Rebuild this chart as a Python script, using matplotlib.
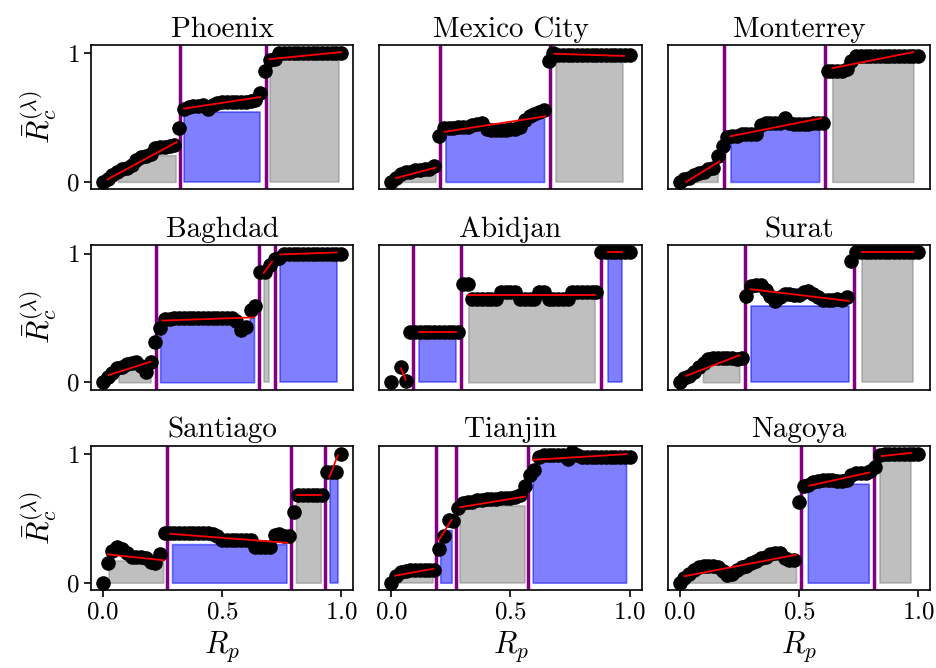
import numpy as np
import matplotlib
matplotlib.use("Agg")
import matplotlib.pyplot as plt

plt.rcParams["font.family"] = "serif"
plt.rcParams["font.serif"] = ["cmr10"]
plt.rcParams["mathtext.fontset"] = "cm"
plt.rcParams["axes.formatter.use_mathtext"] = True

# R_p grid shared by all cities
r_p = np.linspace(0, 1, 51)
nan = np.nan

cities = ["Phoenix", "Mexico City", "Monterrey",
          "Baghdad", "Abidjan", "Surat",
          "Santiago", "Tianjin", "Nagoya"]

# ---- Phoenix
phoenix_y = [0.00, 0.02, 0.05, 0.08, 0.10, 0.11, 0.13, 0.17, 0.19, 0.20,
             0.22, 0.26, 0.27, 0.27, 0.28, 0.29, 0.42, 0.57, 0.58, 0.59,
             0.59, 0.60, 0.57, 0.60, 0.61, 0.62, 0.62, 0.62, 0.62, 0.62,
             0.62, 0.63, 0.64, 0.69, 0.86, 0.95, 0.96, 1.00, 1.00, 1.00,
             1.00, 1.00, 1.00, 1.00, 1.00, 1.00, 1.00, 1.00, 1.00, 1.00, 1.00]
phoenix_breaks = [0.325, 0.686]
phoenix_fits = [(0.02, 0.02, 0.31, 0.31), (0.34, 0.57, 0.66, 0.66), (0.70, 0.955, 1.0, 1.01)]
phoenix_rects = [(0.063, 0.305, 0.208), (0.34, 0.66, 0.54), (0.70, 0.99, 0.95)]

# ---- Mexico City
mexico_y = [0.00, 0.03, 0.06, 0.08, 0.08, 0.09, 0.09, 0.10, 0.10, 0.12,
            0.36, 0.42, 0.42, 0.42, 0.43, 0.43, 0.43, 0.44, 0.45, 0.46,
            0.41, 0.40, 0.40, 0.40, 0.40, 0.41, 0.41, 0.43, 0.48, 0.51,
            0.53, 0.54, 0.56, 0.94, 1.00, 0.99, 0.99, 0.99, 0.99, 0.99,
            0.99, 0.99, 0.99, 0.99, 0.99, 0.99, 0.985, 0.985, 0.985, 0.985, 0.985]
mexico_breaks = [0.205, 0.666]
mexico_fits = [(0.02, 0.03, 0.185, 0.11), (0.224, 0.39, 0.646, 0.51), (0.684, 0.997, 0.976, 0.98)]
mexico_rects = [(0.04, 0.185, 0.07), (0.227, 0.641, 0.50), (0.69, 0.973, 0.94)]

# ---- Monterrey
monterrey_y = [0.00, 0.02, 0.03, 0.05, 0.07, 0.08, 0.10, 0.11, 0.20, 0.28,
               0.35, 0.36, 0.36, 0.37, 0.37, 0.37, 0.37, 0.44, 0.46, 0.46,
               0.46, 0.46, 0.50, 0.46, 0.45, 0.45, 0.45, 0.45, 0.46, 0.46,
               0.46, 0.86, 0.86, 0.86, 0.86, 0.88, 0.94, 0.98, 0.98, 0.98,
               0.98, 0.98, 0.98, 0.98, 0.98, 0.98, 0.98, 0.98, 0.98, 0.98, 0.98]
monterrey_breaks = [0.187, 0.61]
monterrey_fits = [(0.027, 0.0, 0.167, 0.16), (0.213, 0.355, 0.593, 0.495), (0.64, 0.885, 0.98, 1.01)]
monterrey_rects = [(0.02, 0.159, 0.065), (0.213, 0.585, 0.43), (0.64, 0.98, 0.93)]

# ---- Baghdad
baghdad_y = [0.00, 0.04, 0.07, 0.11, 0.12, 0.14, 0.15, 0.16, 0.13, 0.08,
             0.16, 0.31, 0.42, 0.49, 0.49, 0.50, 0.50, 0.50, 0.50, 0.50,
             0.50, 0.50, 0.50, 0.50, 0.50, 0.50, 0.50, 0.50, 0.48, 0.41,
             0.43, 0.56, 0.59, 0.86, 0.86, 0.91, 0.96, 0.97, 1.00, 1.00,
             1.00, 1.00, 1.00, 1.00, 1.00, 1.00, 1.00, 1.00, 1.00, 1.00, 1.00]
baghdad_breaks = [0.222, 0.655, 0.72]
baghdad_fits = [(0.024, 0.056, 0.20, 0.16), (0.25, 0.48, 0.634, 0.505),
                (0.675, 0.85, 0.71, 0.94), (0.745, 0.995, 0.98, 1.01)]
baghdad_rects = [(0.066, 0.20, 0.11), (0.24, 0.634, 0.505), (0.676, 0.697, 0.84), (0.743, 0.984, 0.95)]

# ---- Abidjan
abidjan_y = [0.00, nan, 0.12, 0.01, 0.39, 0.39, 0.39, 0.39, 0.39, 0.39,
             0.39, 0.39, 0.39, 0.39, 0.39, 0.765, 0.765, 0.65, 0.65, 0.65,
             0.65, 0.65, 0.65, 0.70, 0.70, 0.70, 0.70, 0.65, 0.65, 0.65,
             0.65, 0.70, 0.70, 0.65, 0.65, 0.65, 0.65, 0.65, 0.70, 0.70,
             0.70, 0.70, 0.70, 0.70, 1.01, 1.01, 1.01, 1.01, 1.01, 1.01, 1.01]
abidjan_breaks = [0.09, 0.293, 0.88]
abidjan_fits = [(0.04, 0.11, 0.06, 0.02), (0.116, 0.394, 0.27, 0.394),
                (0.323, 0.68, 0.853, 0.68), (0.907, 1.01, 0.968, 1.01)]
abidjan_rects = [(0.0, 0.0, 0.0), (0.116, 0.273, 0.37), (0.323, 0.853, 0.655), (0.907, 0.968, 0.98)]

# ---- Surat
surat_y = [0.00, 0.03, 0.05, 0.08, 0.12, 0.15, 0.18, 0.19, 0.19, 0.19,
           0.19, 0.19, 0.18, 0.19, 0.67, 0.75, 0.76, 0.76, 0.72, 0.67,
           0.63, 0.66, 0.69, 0.69, 0.68, 0.68, 0.70, 0.71, 0.69, 0.66,
           0.64, 0.64, 0.64, 0.65, 0.64, 0.66, 0.94, 1.01, 1.01, 1.01,
           1.01, 1.01, 1.01, 1.01, 1.01, 1.01, 1.01, 1.01, 1.01, 1.01, 1.01]
surat_breaks = [0.275, 0.732]
surat_fits = [(0.027, 0.05, 0.25, 0.21), (0.298, 0.724, 0.709, 0.633), (0.763, 1.01, 0.98, 1.01)]
surat_rects = [(0.097, 0.25, 0.15), (0.298, 0.709, 0.59), (0.763, 0.98, 0.97)]

# ---- Santiago
santiago_y = [0.00, 0.15, 0.25, 0.28, 0.26, 0.23, 0.20, 0.20, 0.20, 0.19,
              0.16, 0.15, 0.22, 0.39, 0.39, 0.39, 0.39, 0.39, 0.39, 0.39,
              0.39, 0.39, 0.39, 0.38, 0.36, 0.33, 0.33, 0.33, 0.33, 0.33,
              0.33, 0.33, 0.28, 0.28, 0.28, 0.28, 0.37, 0.38, 0.36, 0.36,
              0.55, 0.68, 0.68, 0.68, 0.68, 0.68, 0.68, 0.86, 0.86, 0.86, 1.00]
santiago_breaks = [0.27, 0.788, 0.932]
santiago_fits = [(0.02, 0.22, 0.256, 0.174), (0.283, 0.38, 0.774, 0.31),
                 (0.816, 0.68, 0.914, 0.68), (0.95, 0.82, 0.985, 0.99)]
santiago_rects = [(0.024, 0.253, 0.173), (0.29, 0.77, 0.30), (0.81, 0.914, 0.65), (0.954, 0.988, 0.82)]

# ---- Tianjin
tianjin_y = [0.00, 0.05, 0.08, 0.09, 0.10, 0.10, 0.10, 0.10, 0.10, 0.10,
             0.26, 0.36, 0.49, 0.48, 0.58, 0.62, 0.63, 0.63, 0.64, 0.64,
             0.65, 0.65, 0.65, 0.66, 0.66, 0.66, 0.67, 0.68, 0.75, 0.84,
             0.88, 0.98, 0.99, 0.99, 0.99, 0.99, 0.99, 0.96, 1.02, 0.99,
             0.98, 0.98, 0.98, 0.98, 0.98, 0.98, 0.98, 0.98, 0.98, 0.98, 0.98]
tianjin_breaks = [0.188, 0.272, 0.575]
tianjin_fits = [(0.016, 0.054, 0.176, 0.108), (0.2, 0.333, 0.253, 0.49),
                (0.289, 0.587, 0.561, 0.67), (0.593, 0.956, 0.987, 1.0)]
tianjin_rects = [(0.03, 0.173, 0.06), (0.205, 0.253, 0.41), (0.29, 0.561, 0.60), (0.593, 0.985, 0.956)]

# ---- Nagoya
nagoya_y = [0.00, 0.04, 0.07, 0.10, 0.12, 0.13, 0.13, 0.13, 0.12, 0.09,
            0.06, 0.07, 0.10, 0.12, 0.13, 0.15, 0.17, 0.19, 0.20, 0.22,
            0.23, 0.23, 0.19, 0.18, 0.18, 0.63, 0.75, 0.76, 0.78, 0.79,
            0.80, 0.80, 0.80, 0.79, 0.79, 0.80, 0.84, 0.85, 0.85, 0.85,
            0.87, 0.90, 0.99, 1.00, 1.00, 1.00, 1.00, 1.00, 1.00, 1.00, 1.00]
nagoya_breaks = [0.509, 0.817]
nagoya_fits = [(0.02, 0.05, 0.488, 0.217), (0.544, 0.755, 0.795, 0.857), (0.848, 0.985, 0.97, 1.01)]
nagoya_rects = [(0.04, 0.488, 0.178), (0.537, 0.793, 0.77), (0.842, 0.97, 0.97)]

panels = [
    (phoenix_y, phoenix_breaks, phoenix_fits, phoenix_rects),
    (mexico_y, mexico_breaks, mexico_fits, mexico_rects),
    (monterrey_y, monterrey_breaks, monterrey_fits, monterrey_rects),
    (baghdad_y, baghdad_breaks, baghdad_fits, baghdad_rects),
    (abidjan_y, abidjan_breaks, abidjan_fits, abidjan_rects),
    (surat_y, surat_breaks, surat_fits, surat_rects),
    (santiago_y, santiago_breaks, santiago_fits, santiago_rects),
    (tianjin_y, tianjin_breaks, tianjin_fits, tianjin_rects),
    (nagoya_y, nagoya_breaks, nagoya_fits, nagoya_rects),
]

fig, axes = plt.subplots(3, 3, figsize=(9.36, 6.68), dpi=100)
fig.subplots_adjust(left=0.0972, right=0.9936, top=0.9326, bottom=0.1168,
                    wspace=0.1, hspace=0.39)

for k, (ax, name, (yv, breaks, fits, rects)) in enumerate(zip(axes.flat, cities, panels)):
    row, col = divmod(k, 3)
    yarr = np.asarray(yv, dtype=float)

    # shaded segments, alternating gray / blue, capped at segment level
    for j, (x0, x1, h) in enumerate(rects):
        if h <= 0:
            continue
        c = "gray" if j % 2 == 0 else "blue"
        inside = (r_p > x0) & (r_p < x1)
        xs = np.concatenate([[x0], r_p[inside], [x1]])
        ys = np.minimum(np.interp(xs, r_p, yarr), h)
        ax.fill_between(xs, 0, ys, color=c, alpha=0.5, edgecolor=c,
                        linewidth=1.2, zorder=1)

    for b in breaks:
        ax.axvline(b, color="purple", lw=2.5, zorder=2)

    ax.scatter(r_p, yarr, s=90, color="black", zorder=3)

    for xa, ya, xb, yb in fits:
        ax.plot([xa, xb], [ya, yb], color="red", lw=1.3, zorder=4)

    ax.set_xlim(-0.05, 1.05)
    ax.set_ylim(-0.057, 1.065)
    ax.set_title(name, fontsize=21)
    for s in ax.spines.values():
        s.set_linewidth(1.2)

    if col == 0:
        ax.set_yticks([0, 1])
        ax.set_ylabel(r"$\bar{R}_c^{(\lambda)}$", fontsize=22)
    else:
        ax.set_yticks([])
    if row == 2:
        ax.set_xticks([0, 0.5, 1.0])
        ax.set_xlabel(r"$R_p$", fontsize=22)
    else:
        ax.set_xticks([])
    ax.tick_params(labelsize=18, width=1.2, length=5)

plt.savefig("out.png", dpi=100)
plt.close()
